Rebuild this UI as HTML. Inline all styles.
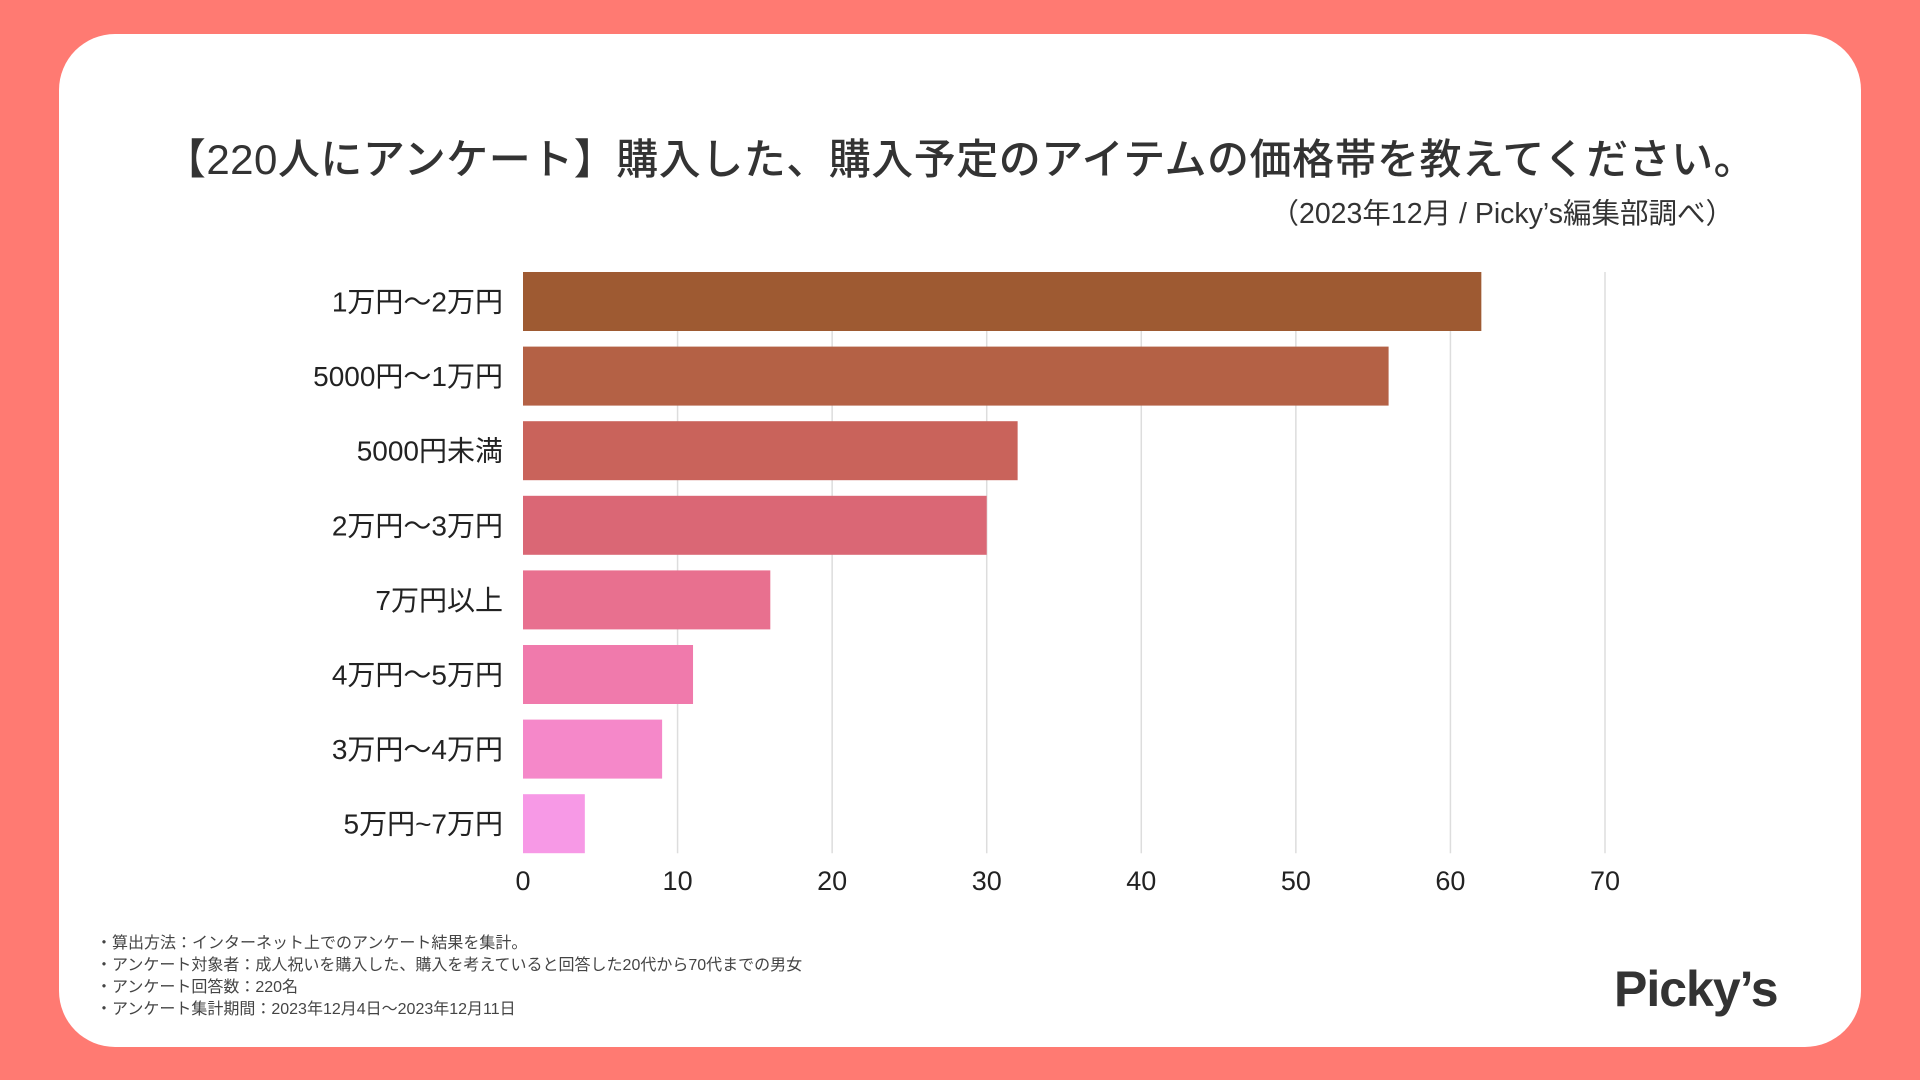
<!DOCTYPE html>
<html><head><meta charset="utf-8">
<style>
html,body{margin:0;padding:0;width:1920px;height:1080px;overflow:hidden;background:#FF7A72;font-family:"Liberation Sans","Noto Sans CJK JP",sans-serif;}
#card{position:absolute;left:59px;top:34px;width:1802px;height:1013px;background:#fff;border-radius:56px;}
#title{position:absolute;left:0;width:1920px;top:126px;text-align:center;font-size:42px;letter-spacing:0.5px;color:#333;font-weight:500;}
#sub{position:absolute;right:186px;top:191px;font-size:28.5px;color:#333;}
#notes{position:absolute;left:96px;top:933px;font-size:16px;color:#444;line-height:22px;}
#logo{position:absolute;left:1614px;top:960px;font-size:50px;font-weight:bold;color:#333;letter-spacing:-1px;}
svg{position:absolute;left:0;top:0;}
</style></head><body>
<div id="card"></div>
<div id="title">【220人にアンケート】購入した、購入予定のアイテムの価格帯を教えてください。</div>
<div id="sub">（2023年12月 / Picky’s編集部調べ）</div>
<svg id="chart" width="1920" height="1080"></svg>
<div id="notes">・算出方法：インターネット上でのアンケート結果を集計。<br>・アンケート対象者：成人祝いを購入した、購入を考えていると回答した20代から70代までの男女<br>・アンケート回答数：220名<br>・アンケート集計期間：2023年12月4日〜2023年12月11日</div>
<div id="logo">Picky’s</div>
<script>
const categories=["1万円〜2万円","5000円〜1万円","5000円未満","2万円〜3万円","7万円以上","4万円〜5万円","3万円〜4万円","5万円~7万円"];
const values=[62,56,32,30,16,11,9,4];
const colors=["#9E5A32","#B46145","#C9635B","#DA6775","#E8708F","#F07AAC","#F588C9","#F799E6"];
const ticks=[0,10,20,30,40,50,60,70];
const svg=document.getElementById('chart');
const NS="http://www.w3.org/2000/svg";
const x0=523,x1=1605,vmax=70,top0=272,pitch=74.6,bh=59;
const xs=v=>x0+(x1-x0)*v/vmax;
ticks.forEach(t=>{
 if(t>0){const l=document.createElementNS(NS,'line');
 l.setAttribute('x1',xs(t));l.setAttribute('x2',xs(t));l.setAttribute('y1',top0);l.setAttribute('y2',top0+pitch*7+bh);
 l.setAttribute('stroke','#ddd');l.setAttribute('stroke-width','1.5');
 
 
 svg.appendChild(l);}
 const tx=document.createElementNS(NS,'text');
 tx.setAttribute('x',xs(t));tx.setAttribute('y',890);tx.setAttribute('text-anchor','middle');
 tx.setAttribute('font-size','27');tx.setAttribute('fill','#222');tx.textContent=t;
 
 
 svg.appendChild(tx);
});
categories.forEach((c,i)=>{
 const y=top0+pitch*i;
 const r=document.createElementNS(NS,'rect');
 r.setAttribute('x',x0);r.setAttribute('y',y);r.setAttribute('width',xs(values[i])-x0);r.setAttribute('height',bh);r.setAttribute('fill',colors[i]);
 
 
 svg.appendChild(r);
 const t=document.createElementNS(NS,'text');
 t.setAttribute('x',503);t.setAttribute('y',y+bh/2+10);t.setAttribute('text-anchor','end');
 t.setAttribute('font-size','28');t.setAttribute('fill','#222');t.setAttribute('font-family','"Liberation Sans","Noto Sans CJK JP",sans-serif');
 t.textContent=c;
 
 
 svg.appendChild(t);
});
</script>
</body></html>
